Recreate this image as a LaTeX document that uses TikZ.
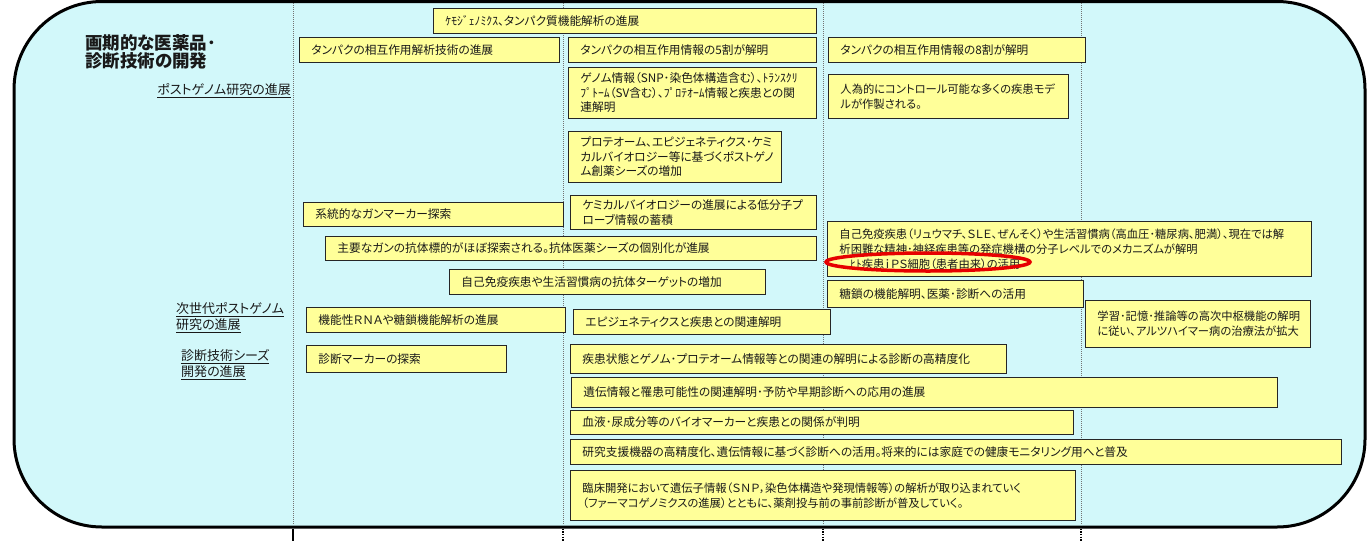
\documentclass[tikz,border=0pt]{standalone}
\usepackage{fontspec}
\setmainfont{Noto Sans CJK JP}[RawFeature=+palt]
\usetikzlibrary{shapes.geometric}
\definecolor{bgc}{RGB}{210,248,250}
\definecolor{byel}{RGB}{255,255,153}
\definecolor{ovalred}{RGB}{230,0,0}
\tikzset{
  box/.style={draw=black!85, line width=0.9pt, fill=byel, anchor=north west, align=left,
    inner xsep=12pt, inner ysep=0pt, font=\fontsize{11.7}{14.5}\selectfont, text=black!90},
  smallbox/.style={font=\fontsize{11.3}{14.8}\selectfont},
  gridline/.style={draw=black!55, line width=0.6pt, dash pattern=on 1pt off 1pt},
  lbl/.style={font=\fontsize{13}{16}\selectfont, inner sep=0pt, align=left, text=black!90},
}
\newcommand\jbox[7][]{%
  \pgfmathsetmacro\jbw{#5-#3-24}%
  \pgfmathsetmacro\jbh{#6-#4}%
  \node[box,#1,text width=\jbw pt,minimum height=\jbh pt] (#2) at (#3,#4) {#7};}
\begin{document}
\begin{tikzpicture}[x=1pt,y=-1pt]
\useasboundingbox (0,0) rectangle (1367,541);
\draw[line width=3pt, fill=bgc, rounded corners=88pt] (14,1.5) rectangle (1365,527);
\foreach \x in {293,563,823,1081} \draw[gridline] (\x,3) -- (\x,525);
\draw[line width=1.5pt] (293,528.5) -- (293,541);
\foreach \x in {563,823,1081} \draw[line width=1.6pt, dash pattern=on 1.5pt off 1.2pt] (\x,528.5) -- (\x,541);

\jbox{chemo}{433}{8}{816}{33}{ｹﾓｼﾞｪﾉﾐｸｽ、タンパク質機能解析の進展}
\jbox{tanpaA}{299}{37}{559}{62}{タンパクの相互作用解析技術の進展}
\jbox{tanpaB}{568}{37}{816}{62}{タンパクの相互作用情報の5割が解明}
\jbox{tanpaC}{828}{37}{1085}{62}{タンパクの相互作用情報の8割が解明}
\jbox{genome}{568}{67}{816}{118}{ゲノム情報（SNP･染色体構造含む）、ﾄﾗﾝｽｸﾘ\\ﾌﾟﾄｰﾑ（SV含む）、ﾌﾟﾛﾃｵｰﾑ情報と疾患との関\\連解明}
\jbox[smallbox]{model}{828}{74}{1068}{118}{人為的にコントロール可能な多くの疾患モデ\\ルが作製される。}
\jbox{proteo}{568}{131}{781}{182}{プロテオーム、エピジェネティクス･ケミ\\カルバイオロジー等に基づくポストゲノ\\ム創薬シーズの増加}
\jbox{ganm}{303}{202}{563}{226}{系統的なガンマーカー探索}
\jbox{chembio}{570}{195}{816}{229}{ケミカルバイオロジーの進展による低分子プ\\ローブ情報の蓄積}
\jbox{kotai}{325}{236}{816}{260}{主要なガンの抗体標的がほぼ探索される。抗体医薬シーズの個別化が進展}
\jbox{jiko}{449}{269}{765}{294}{自己免疫疾患や生活習慣病の抗体ターゲットの増加}
\jbox[smallbox]{mech}{827}{221}{1311}{276}{自己免疫疾患（リュウマチ、ＳＬＥ、ぜんそく）や生活習慣病（高血圧･糖尿病、肥満）、現在では解\\析困難な精神･神経疾患等の発症機構の分子レベルでのメカニズムが解明\\\hspace*{11pt}ﾋﾄ疾患ｉＰＳ細胞（患者由来）の活用}
\jbox{tosa}{827}{280}{1083}{307}{糖鎖の機能解明、医薬･診断への活用}
\jbox[smallbox]{gakushu}{1085}{300}{1310}{347}{学習･記憶･推論等の高次中枢機能の解明\\に従い、アルツハイマー病の治療法が拡大}
\jbox{rna}{306}{307}{565}{332}{機能性ＲＮＡや糖鎖機能解析の進展}
\jbox{epi}{573}{309}{830}{334}{エピジェネティクスと疾患との関連解明}
\jbox{marker}{306}{345}{506}{372}{診断マーカーの探索}
\jbox{shikkan}{570}{344}{1006}{373}{疾患状態とゲノム･プロテオーム情報等との関連の解明による診断の高精度化}
\jbox{iden}{571}{377}{1277}{407}{遺伝情報と罹患可能性の関連解明･予防や早期診断への応用の進展}
\jbox{blood}{570}{410}{1073}{434}{血液･尿成分等のバイオマーカーと疾患との関係が判明}
\jbox{kiki}{570}{439}{1341}{464}{研究支援機器の高精度化、遺伝情報に基づく診断への活用。将来的には家庭での健康モニタリング用へと普及}
\jbox[smallbox]{rinsho}{570}{470}{1075}{520}{臨床開発において遺伝子情報（ＳＮＰ，染色体構造や発現情報等）の解析が取り込まれていく\\（ファーマコゲノミクスの進展）とともに、薬剤投与前の事前診断が普及していく。}

\node[draw=ovalred, line width=3.5pt, ellipse, minimum width=204pt, minimum height=18pt, inner sep=0pt] (oval) at (928,262) {};

\node[lbl, font=\bfseries\fontsize{17.5}{18}\selectfont, anchor=north west] (title) at (85,34) {画期的な医薬品･\\診断技術の開発};
\node[lbl, anchor=east] (post) at (291,91) {\underline{ポストゲノム研究の進展}};
\node[lbl, anchor=north west] (nextgen) at (176,302) {\underline{次世代ポストゲノム}\\\underline{研究の進展}};
\node[lbl, anchor=north west] (diag) at (181,349) {\underline{診断技術シーズ}\\\underline{開発の進展}};
\end{tikzpicture}
\end{document}
